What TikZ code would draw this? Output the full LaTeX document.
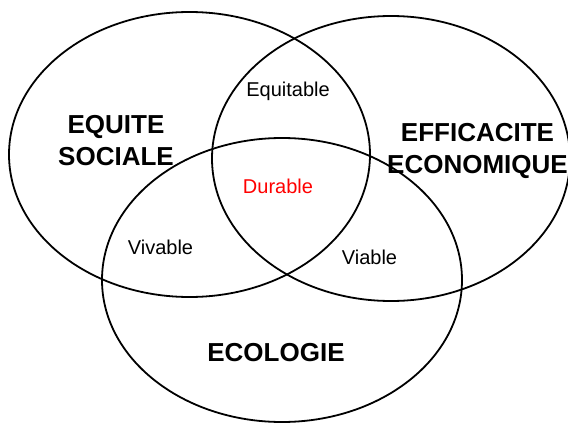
\documentclass[tikz,border=0pt]{standalone}
\usepackage{fontspec}
\setmainfont{Liberation Sans}
\begin{document}
\begin{tikzpicture}[x=1pt,y=-1pt,
  circ/.style={draw=black,line width=1.8pt},
  big/.style={font=\fontsize{26}{32}\selectfont\bfseries,align=center,inner sep=0pt,anchor=base},
  small/.style={font=\fontsize{20}{24}\selectfont,inner sep=0pt,anchor=base}]
\useasboundingbox (0,0) rectangle (568,423);
\draw[circ] (189.5,154.5) ellipse [x radius=180.5pt, y radius=142.5pt];
\draw[circ] (391,158.5) ellipse [x radius=179pt, y radius=142.5pt];
\draw[circ] (282,280) ellipse [x radius=180pt, y radius=142pt];
\node[big] (soc) at (116,165) {EQUITE\\SOCIALE};
\node[big] (eco) at (477.5,173) {EFFICACITE\\ECONOMIQUE};
\node[big] (ecol) at (276,361) {ECOLOGIE};
\node[small] (equ) at (288,96.5) {Equitable};
\node[small,text=red] (dur) at (278,193) {Durable};
\node[small] (viv) at (160.5,254) {Vivable};
\node[small] (via) at (369.5,264.5) {Viable};
\end{tikzpicture}
\end{document}
